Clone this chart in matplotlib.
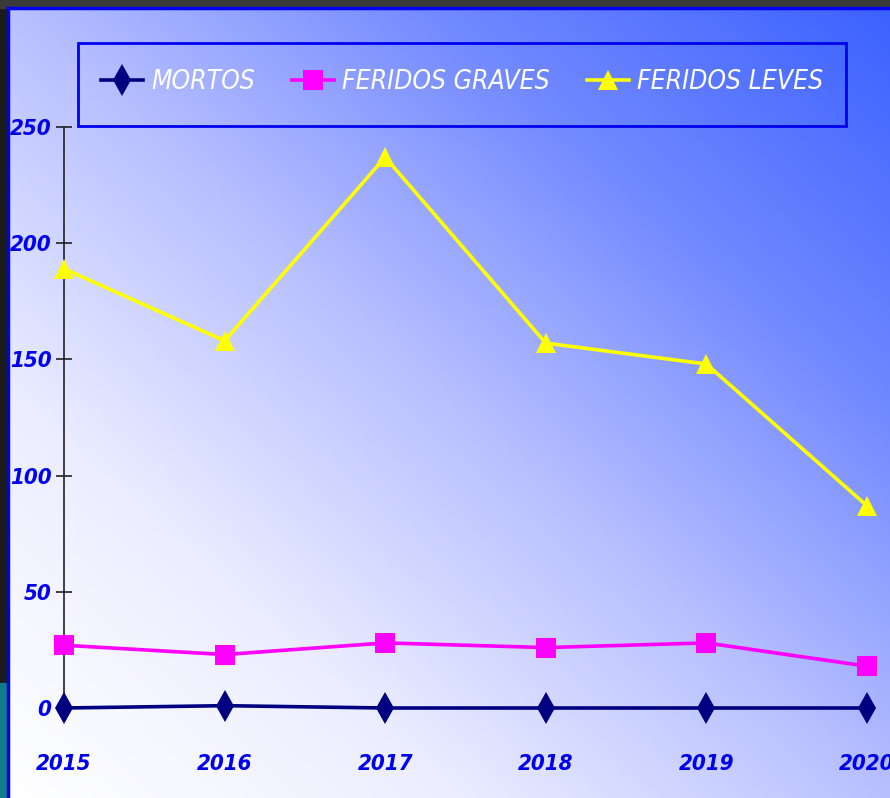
import numpy as np
import matplotlib
matplotlib.use("Agg")
import matplotlib.pyplot as plt
from matplotlib.colors import LinearSegmentedColormap
from matplotlib.patches import Rectangle
from matplotlib.font_manager import FontProperties

years = [2015, 2016, 2017, 2018, 2019, 2020]
mortos = [0, 1, 0, 0, 0, 0]
feridos_graves = [27, 23, 28, 26, 28, 18]
feridos_leves = [189, 158, 237, 157, 148, 87]
series_names = ["MORTOS", "FERIDOS GRAVES", "FERIDOS LEVES"]
y_ticks = [0, 50, 100, 150, 200, 250]

fam, stretch = "DejaVu Sans", "condensed"

def fp(size, weight="normal"):
    return FontProperties(family=fam, stretch=stretch, style="italic", weight=weight, size=size)

W, H = 890, 798
fig = plt.figure(figsize=(W / 100, H / 100), dpi=100)
fig.patch.set_facecolor("#1c1c1c")
fig.add_artist(Rectangle((0, 1 - 8 / H), 1, 8 / H, transform=fig.transFigure, color="#3a3a3a"))

# background panel with gradient
bx0, by_top = 8 / W, 8 / H
bg = fig.add_axes([bx0, 0, 1 - bx0, 1 - by_top])
bg.set_axis_off()
nx, ny = 300, 300
xx, yy = np.meshgrid(np.linspace(0, 1, nx), np.linspace(0, 1, ny))
t = (xx + yy) / 2.0
cmap = LinearSegmentedColormap.from_list(
    "g", ["#ffffff", "#eceeff", "#b8c0ff", "#7088ff", "#3c62ff"])
bg.imshow(t, cmap=cmap, origin="lower", extent=[0, 1, 0, 1], aspect="auto", vmin=0, vmax=1)
bg.set_xlim(0, 1); bg.set_ylim(0, 1)
fig.add_artist(plt.Line2D([bx0, bx0], [0, 1 - by_top], transform=fig.transFigure, color="#0000ee", lw=2.5))
fig.add_artist(plt.Line2D([bx0, 1], [1 - by_top, 1 - by_top], transform=fig.transFigure, color="#0000ee", lw=2.5))
fig.add_artist(Rectangle((0, 0), 6 / W, 115 / H, transform=fig.transFigure, color="#137a8a"))

# plot axes
x0, x1 = 64 / W, 867 / W
y0, y1 = (H - 708) / H, (H - 127) / H
ax = fig.add_axes([x0, y0, x1 - x0, y1 - y0])
ax.patch.set_alpha(0)
ax.set_xlim(years[0], years[-1])
ax.set_ylim(0, 250)

ax.plot(years, mortos, color="#000080", lw=2.6, marker="d", ms=16, markeredgewidth=0,
        label=series_names[0], clip_on=False, zorder=5)
ax.plot(years, feridos_graves, color="#ff00ff", lw=2.6, marker="s", ms=14, markeredgewidth=0,
        label=series_names[1], clip_on=False, zorder=4)
ax.plot(years, feridos_leves, color="#ffff00", lw=2.6, marker="^", ms=15, markeredgewidth=0,
        label=series_names[2], clip_on=False, zorder=3)

for s in ["top", "right", "bottom"]:
    ax.spines[s].set_visible(False)
ax.spines["left"].set_color("#222222")
ax.spines["left"].set_linewidth(1.2)
ax.set_yticks(y_ticks)
ax.set_xticks(years)
ax.tick_params(axis="y", direction="inout", length=12, width=1.2, color="#222222", pad=3)
ax.tick_params(axis="x", length=0, pad=33)
for lab in ax.get_yticklabels() + ax.get_xticklabels():
    lab.set_fontproperties(fp(16, "bold"))
    lab.set_color("#0000ee")

# legend box
fig.add_artist(Rectangle((78 / W, 1 - 126 / H), (846 - 78) / W, 83 / H, transform=fig.transFigure,
                         fill=False, edgecolor="#0000ee", lw=2, zorder=10))
leg = fig.legend(loc="center", bbox_to_anchor=((78 + 846) / 2 / W, 1 - 82 / H),
                 ncol=3, frameon=False, handlelength=1.6, handletextpad=0.3,
                 columnspacing=1.4, prop=fp(19))
for txt in leg.get_texts():
    txt.set_color("white")

fig.savefig("out.png", dpi=100, facecolor=fig.get_facecolor())
